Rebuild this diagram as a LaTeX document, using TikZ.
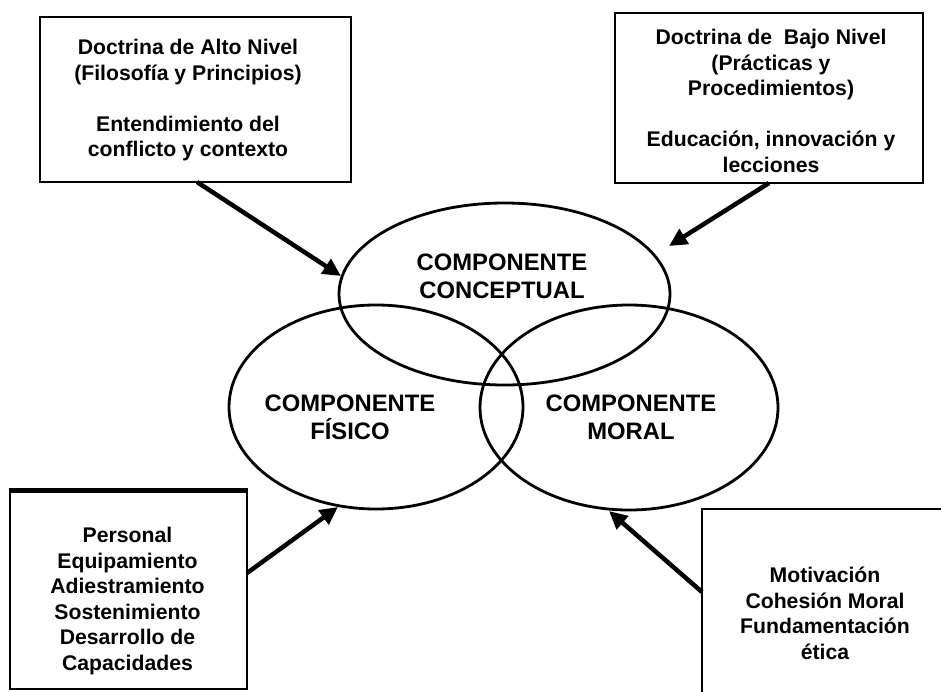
\documentclass[tikz,border=0pt]{standalone}
\usepackage{fontspec}
\setmainfont{Liberation Sans}
\usetikzlibrary{shapes.geometric,arrows.meta}
\begin{document}
\begin{tikzpicture}[x=1pt,y=-1pt,
  venn/.style={draw, ellipse, line width=2.8pt, inner sep=0pt},
  boxtxt/.style={font=\bfseries\fontsize{21.2}{25.5}\selectfont, align=center, inner sep=0pt},
  venntxt/.style={font=\bfseries\fontsize{23.8}{28.5}\selectfont, align=center, inner sep=0pt},
  frame/.style={draw, line width=2.8pt, inner sep=0pt},
  bigarrow/.style={line width=4.5pt, -{Triangle[length=18pt,width=17pt]}}]
\useasboundingbox (0,0) rectangle (941,691);
\clip (0,0) rectangle (941,691);
% ellipses
\node[venn, minimum width=331pt, minimum height=182pt] (conc) at (504.5,294) {};
\node[venn, minimum width=294pt, minimum height=204pt] (fis) at (376,407) {};
\node[venn, minimum width=298pt, minimum height=205pt] (mor) at (629,407.5) {};
\node[venntxt] (concl) at (502,276.5) {COMPONENTE\\CONCEPTUAL};
\node[venntxt] (fisl) at (350,417.5) {COMPONENTE\\FÍSICO};
\node[venntxt] (morl) at (631,417.5) {COMPONENTE\\MORAL};
% boxes
\draw[frame] (40,17) rectangle (351,182);
\node[inner sep=0pt, minimum width=311pt, minimum height=165pt] (tl) at (195.5,99.5) {};
\node[boxtxt] (tlt) at (188,100.5) {Doctrina de Alto Nivel\\(Filosofía y Principios)\\[25.5pt]Entendimiento del\\conflicto y contexto};
\draw[frame] (615,13) rectangle (923,183);
\node[inner sep=0pt, minimum width=308pt, minimum height=170pt] (tr) at (769,98) {};
\node[boxtxt] (trt) at (771,101) {Doctrina de\ \ Bajo Nivel\\(Prácticas y\\Procedimientos)\\[25.5pt]Educación, innovación y\\lecciones};
\draw[frame] (10,490) rectangle (247,689);
\draw[line width=5pt] (8.6,490) -- (248.4,490);
\node[inner sep=0pt, minimum width=237pt, minimum height=199pt] (bl) at (128.5,589.5) {};
\node[boxtxt] (blt) at (127.5,601) {Personal\\Equipamiento\\Adiestramiento\\Sostenimiento\\Desarrollo de\\Capacidades};
\draw[frame] (702,509) rectangle (960,720);
\node[inner sep=0pt, minimum width=258pt, minimum height=211pt] (br) at (831,614.5) {};
\node[boxtxt] (brt) at (825,613.5) {Motivación\\Cohesión Moral\\Fundamentación\\ética};
% arrow end points
\coordinate (a1s) at (197,182);
\coordinate (a1e) at (341,276);
\coordinate (a2s) at (769,183);
\coordinate (a2e) at (669,246);
\coordinate (a3s) at (247,573);
\coordinate (a3e) at (338,507);
\coordinate (a4s) at (702,592);
\coordinate (a4e) at (609,511);
\draw[bigarrow] (a1s) -- (a1e);
\draw[bigarrow] (a2s) -- (a2e);
\draw[bigarrow] (a3s) -- (a3e);
\draw[bigarrow] (a4s) -- (a4e);
\end{tikzpicture}
\end{document}
